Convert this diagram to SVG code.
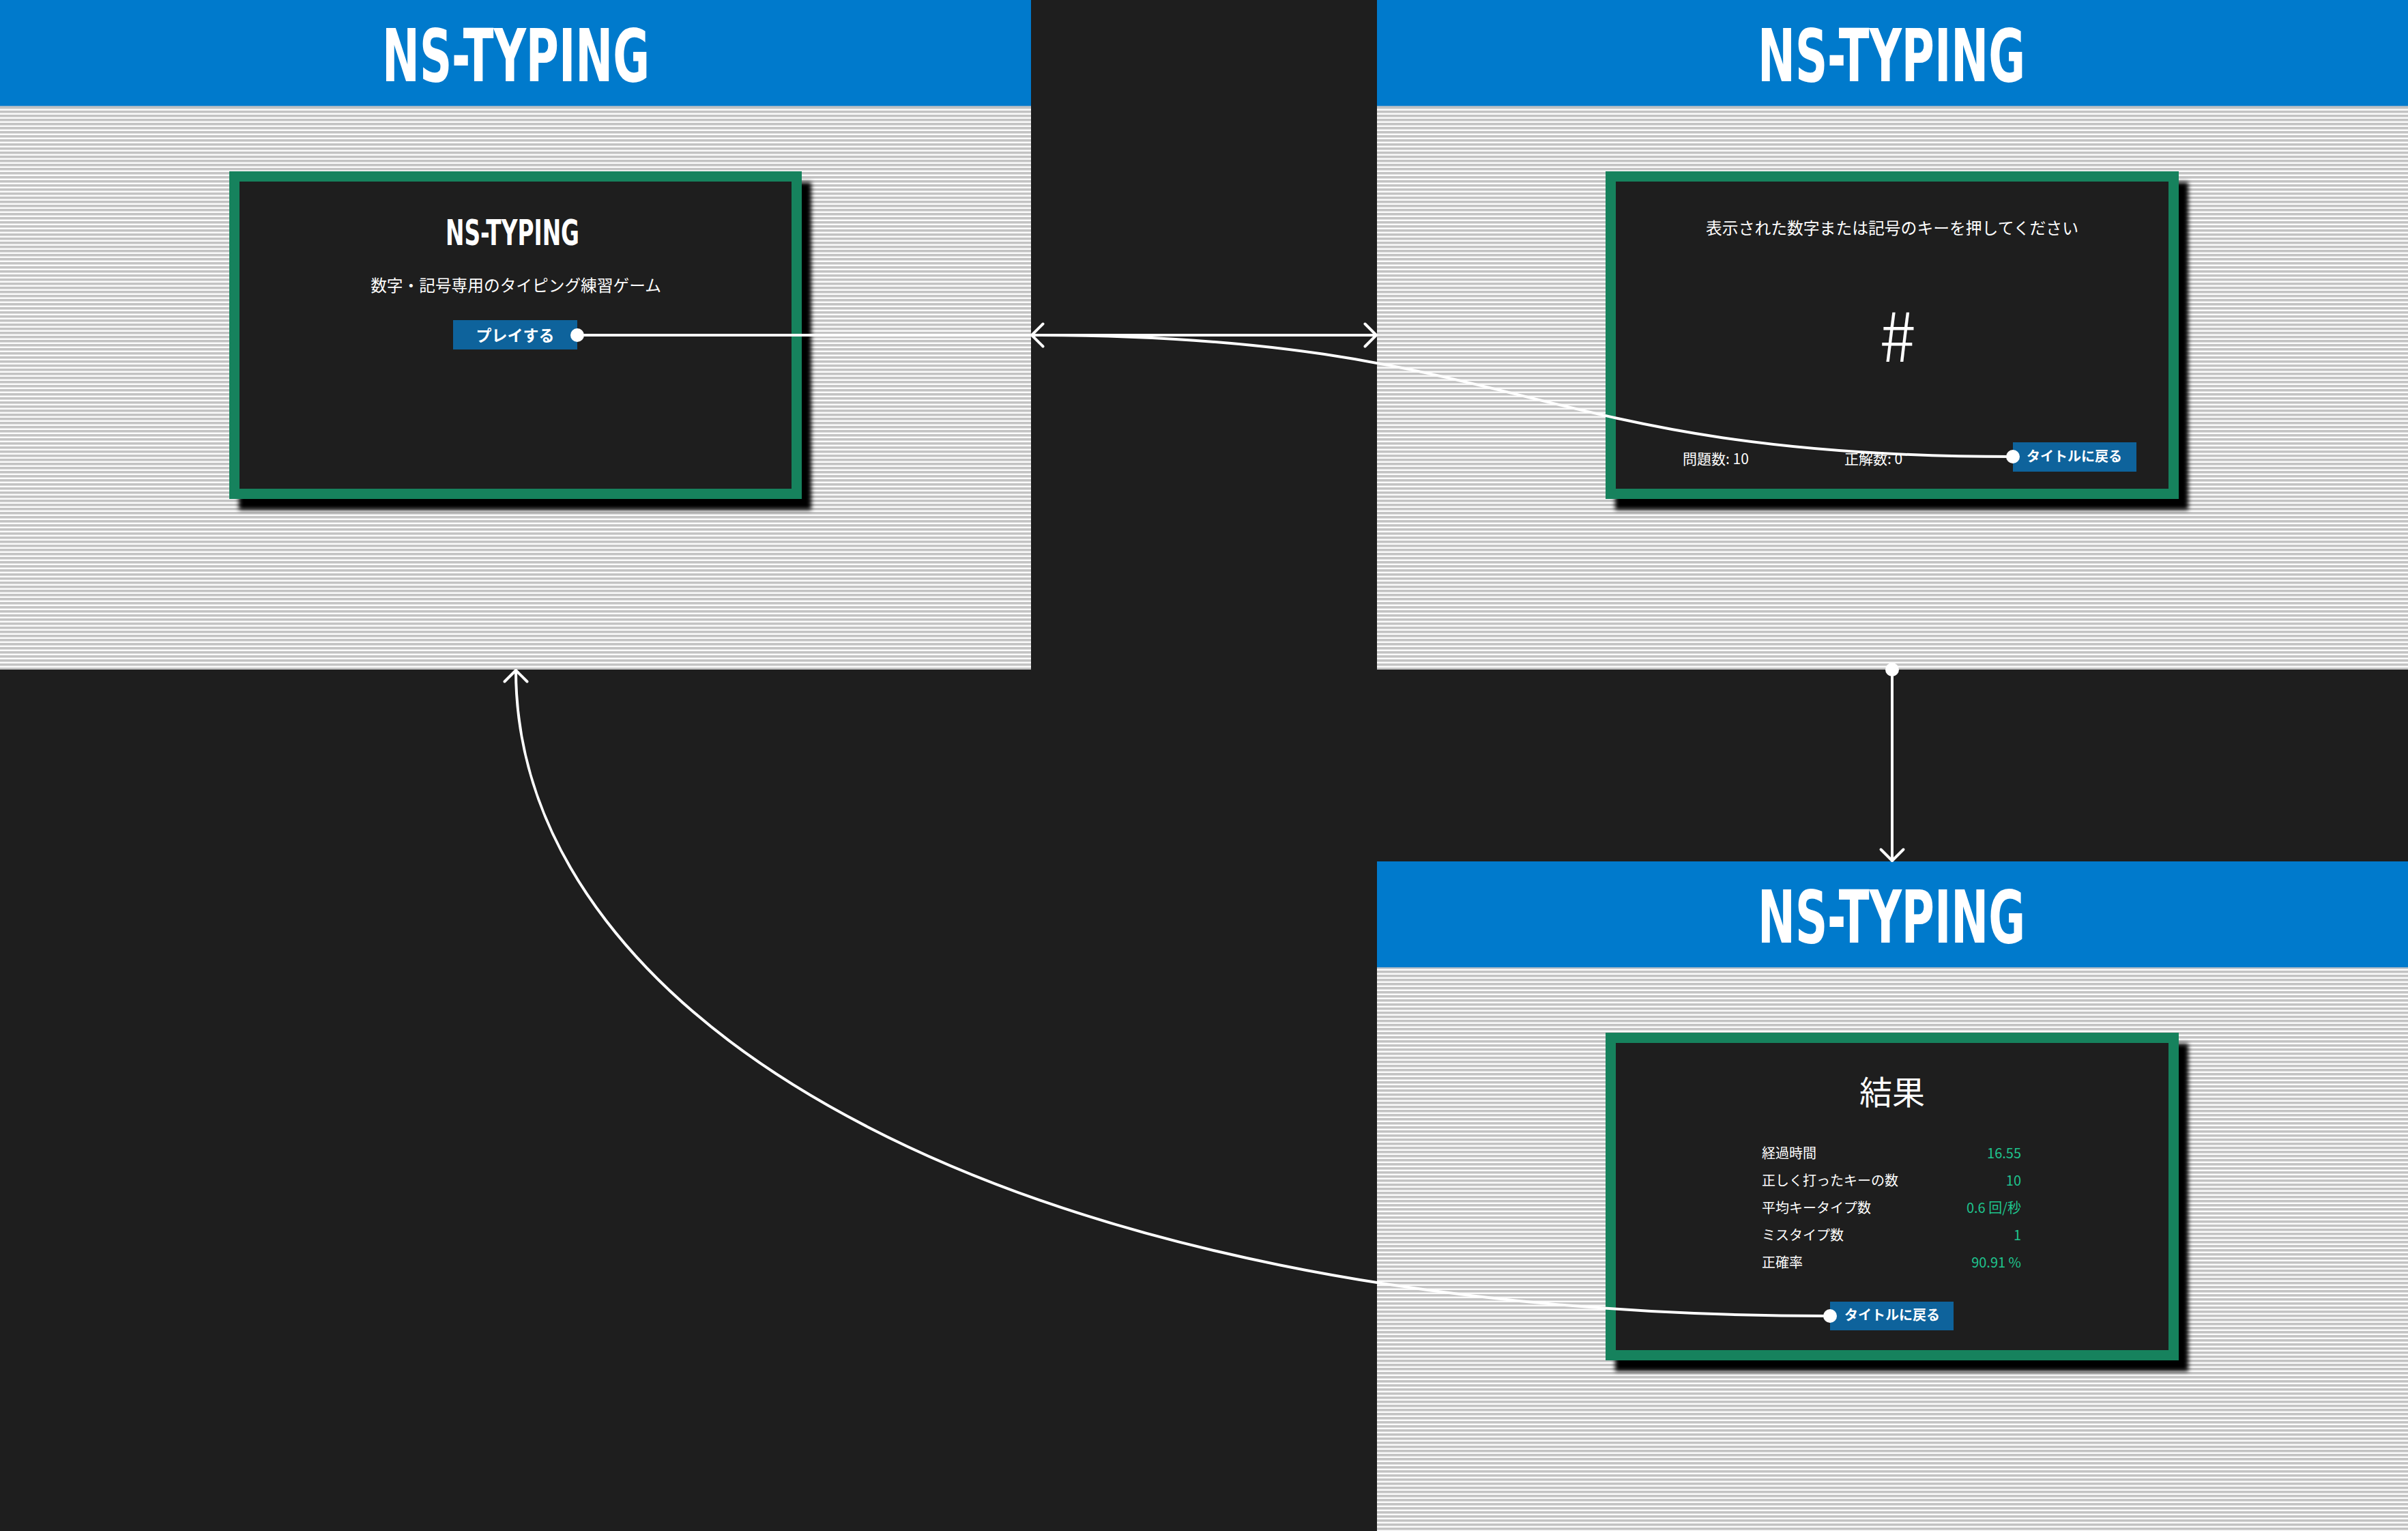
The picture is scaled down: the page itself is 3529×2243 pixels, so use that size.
<svg xmlns="http://www.w3.org/2000/svg" width="3529" height="2243" viewBox="0 0 3529 2243">
  <defs>
    <!-- horizontal pinstripe fill used under each header -->
    <pattern id="stripes" patternUnits="userSpaceOnUse" width="16" height="6">
      <rect width="16" height="6" fill="#fbfbfb"/>
      <rect y="0" width="16" height="3" fill="#c3c3c3"/>
      <rect y="3" width="16" height="1" fill="#dedede"/>
    </pattern>
    <filter id="soft" x="-5%" y="-5%" width="110%" height="110%">
      <feGaussianBlur stdDeviation="3"/>
    </filter>
    <marker id="chevron" viewBox="-20 -20 24 40" refX="0" refY="0" markerWidth="24" markerHeight="40" markerUnits="userSpaceOnUse" orient="auto" overflow="visible">
      <path d="M -16.5 -16.5 L 0 0 L -16.5 16.5" fill="none" stroke="#ffffff" stroke-width="4" stroke-linecap="round" stroke-linejoin="round"/>
    </marker>
    <style>
      .hdr { fill: #007acc; }
      .hdr-edge { fill: #9fb5c8; }
      .field { fill: url(#stripes); }
      .brand { font-family: 'DejaVu Sans Condensed', 'DejaVu Sans', 'Liberation Sans', sans-serif; font-weight: bold; fill: #ffffff; text-anchor: middle; }
      .jp { font-family: 'Noto Sans CJK JP', 'Noto Sans', sans-serif; fill: #ffffff; }
      .mid { text-anchor: middle; }
      .frame { fill: #16825d; }
      .body { fill: #1e1e1e; }
      .shade { fill: #000000; filter: url(#soft); }
      .btn { fill: #0e639c; }
      .btn-label { font-family: 'Noto Sans CJK JP', sans-serif; font-weight: bold; fill: #ffffff; text-anchor: middle; }
      .val { fill: #1fc48e; text-anchor: end; }
      .wire { fill: none; stroke: #ffffff; stroke-width: 4; stroke-linecap: round; }
      .port { fill: #ffffff; }
    </style>
  </defs>

  <rect width="3529" height="2243" fill="#1e1e1e"/>

  <!-- Title screen -->
  <g id="screen-title">
    <rect class="field" x="0" y="156" width="1511" height="825"/>
    <rect class="hdr" x="0" y="0" width="1511" height="156"/>
    <rect class="hdr-edge" x="0" y="155" width="1511" height="1.5"/>
    <text class="brand" x="756" y="119" font-size="107" textLength="392" lengthAdjust="spacingAndGlyphs">NS-TYPING</text>
    <g id="title-card">
      <rect class="shade" x="350" y="267" width="839" height="480"/>
      <rect class="frame" x="336" y="251" width="839" height="480"/>
      <rect class="body" x="351" y="266" width="809" height="450"/>
      <text class="brand" x="751" y="359" font-size="51" textLength="196" lengthAdjust="spacingAndGlyphs">NS-TYPING</text>
      <text class="jp mid" x="756" y="427" font-size="23.7">数字・記号専用のタイピング練習ゲーム</text>
    </g>
    <g id="btn-play">
      <rect class="btn" x="664" y="469" width="182" height="43"/>
      <text class="btn-label" x="755" y="500" font-size="23">プレイする</text>
    </g>
  </g>

  <!-- Game screen -->
  <g id="screen-game">
    <rect class="field" x="2018" y="156" width="1511" height="825"/>
    <rect class="hdr" x="2018" y="0" width="1511" height="156"/>
    <rect class="hdr-edge" x="2018" y="155" width="1511" height="1.5"/>
    <text class="brand" x="2772" y="119" font-size="107" textLength="392" lengthAdjust="spacingAndGlyphs">NS-TYPING</text>
    <g id="game-card">
      <rect class="shade" x="2367" y="267" width="840" height="480"/>
      <rect class="frame" x="2353" y="251" width="840" height="480"/>
      <rect class="body" x="2368" y="266" width="810" height="450"/>
      <text class="jp mid" x="2773" y="343" font-size="23.8">表示された数字または記号のキーを押してください</text>
      <text class="jp mid" x="2781" y="530" font-size="100" font-weight="300">#</text>
      <text class="jp" x="2466" y="680" font-size="21">問題数: 10</text>
      <text class="jp" x="2703" y="680" font-size="21">正解数: 0</text>
    </g>
    <g id="btn-back-game">
      <rect class="btn" x="2950" y="648" width="181" height="43"/>
      <text class="btn-label" x="3040" y="676" font-size="20">タイトルに戻る</text>
    </g>
  </g>

  <!-- Result screen -->
  <g id="screen-result">
    <rect class="field" x="2018" y="1418" width="1511" height="825"/>
    <rect class="hdr" x="2018" y="1262" width="1511" height="156"/>
    <rect class="hdr-edge" x="2018" y="1417" width="1511" height="1.5"/>
    <text class="brand" x="2772" y="1381" font-size="107" textLength="392" lengthAdjust="spacingAndGlyphs">NS-TYPING</text>
    <g id="result-card">
      <rect class="shade" x="2367" y="1529" width="840" height="480"/>
      <rect class="frame" x="2353" y="1513" width="840" height="480"/>
      <rect class="body" x="2368" y="1528" width="810" height="450"/>
      <text class="jp mid" x="2773" y="1618" font-size="48">結果</text>
      <text class="jp" x="2582" y="1697" font-size="20">経過時間</text>
      <text class="jp val" x="2962" y="1697" font-size="20">16.55</text>
      <text class="jp" x="2582" y="1737" font-size="20">正しく打ったキーの数</text>
      <text class="jp val" x="2962" y="1737" font-size="20">10</text>
      <text class="jp" x="2582" y="1777" font-size="20">平均キータイプ数</text>
      <text class="jp val" x="2962" y="1777" font-size="20">0.6 回/秒</text>
      <text class="jp" x="2582" y="1817" font-size="20">ミスタイプ数</text>
      <text class="jp val" x="2962" y="1817" font-size="20">1</text>
      <text class="jp" x="2582" y="1857" font-size="20">正確率</text>
      <text class="jp val" x="2962" y="1857" font-size="20">90.91 %</text>
    </g>
    <g id="btn-back-result">
      <rect class="btn" x="2682" y="1907" width="181" height="42"/>
      <text class="btn-label" x="2773" y="1934" font-size="20">タイトルに戻る</text>
    </g>
  </g>

  <!-- Transitions between screens -->
  <g id="connectors">
    <path class="wire" d="M 846 491 L 2017 491" marker-end="url(#chevron)"/>
    <circle class="port" cx="846" cy="491" r="10"/>

    <path class="wire" d="M 2950 669 C 2232 669, 2232 491, 1512 491" marker-end="url(#chevron)"/>
    <circle class="port" cx="2950" cy="669" r="10"/>

    <path class="wire" d="M 2773 981 L 2773 1261" marker-end="url(#chevron)"/>
    <circle class="port" cx="2773" cy="981" r="10"/>

    <path class="wire" d="M 2682 1928 C 1482 1928, 756 1501, 756 982" marker-end="url(#chevron)"/>
    <circle class="port" cx="2682" cy="1928" r="10"/>
  </g>
</svg>
